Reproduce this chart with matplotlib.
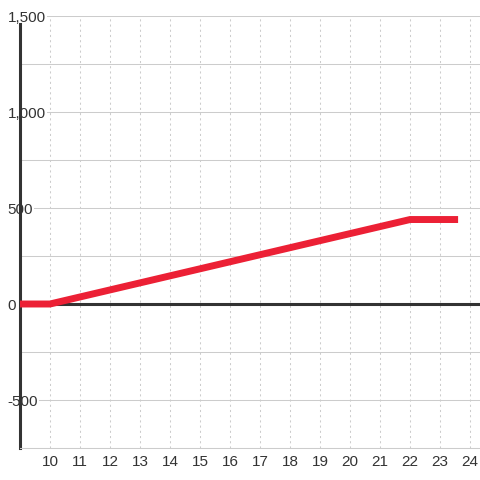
import matplotlib
matplotlib.use("Agg")
import matplotlib.pyplot as plt
from matplotlib.ticker import MultipleLocator, FuncFormatter

# series data
hours = [9, 10, 22, 23.6]
values = [0, 0, 440, 440]

x_ticks = list(range(10, 25))
y_ticks = [-500, 0, 500, 1000, 1500]

plt.rcParams["font.family"] = ["Liberation Sans", "DejaVu Sans"]

fig = plt.figure(figsize=(4.8, 4.8), dpi=100)
ax = fig.add_axes([20 / 480, 32 / 480, 460 / 480, 432 / 480])

# zero line and series
ax.axhline(0, color="#333333", lw=2.2, zorder=3)
ax.plot(hours, values, color="#ec2035", lw=5, solid_capstyle="butt",
        solid_joinstyle="miter", zorder=4)

ax.set_xlim(9, 24.33)
ax.set_ylim(-750, 1500)

# grid
ax.set_xticks(x_ticks)
ax.set_yticks(y_ticks)
ax.yaxis.set_minor_locator(MultipleLocator(250))
ax.grid(axis="x", color="#cccccc", lw=0.75, linestyle=(0, (2, 3)))
ax.grid(axis="y", which="both", color="#cccccc", lw=0.75)
ax.set_axisbelow(True)

ax.yaxis.set_major_formatter(FuncFormatter(lambda v, p: f"{int(v):,}"))
ax.tick_params(axis="both", which="both", length=0, labelsize=11,
               labelcolor="#333333")
ax.tick_params(axis="x", pad=5)
ax.tick_params(axis="y", pad=9)
for lbl in ax.get_yticklabels():
    lbl.set_horizontalalignment("left")
    lbl.set_bbox(dict(facecolor="white", edgecolor="none", pad=1))

for s in ["top", "right"]:
    ax.spines[s].set_visible(False)
ax.spines["bottom"].set_color("#cccccc")
ax.spines["bottom"].set_linewidth(0.75)
ax.spines["left"].set_color("#333333")
ax.spines["left"].set_linewidth(2.2)
ax.spines["left"].set_bounds(-750, 1460)

fig.savefig("out.png", dpi=100)
